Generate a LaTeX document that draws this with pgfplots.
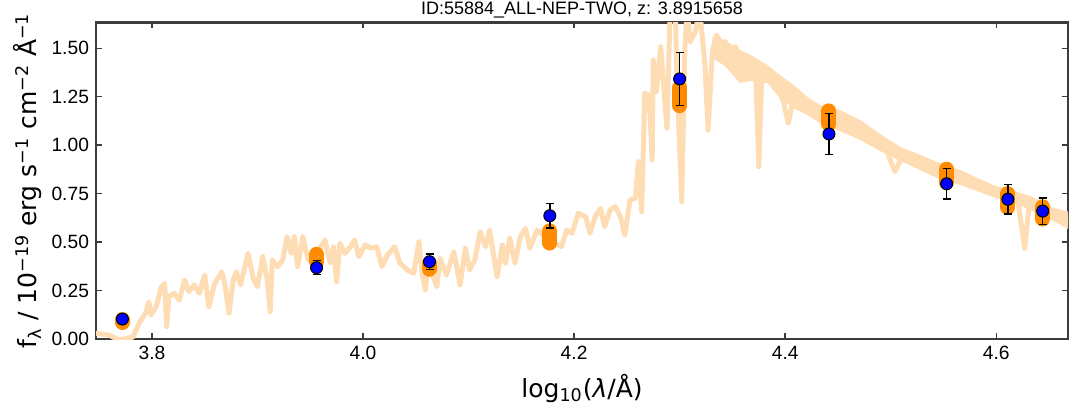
\documentclass[border=0pt]{standalone}
\usepackage{fontspec}
\setmainfont{Liberation Sans}
\newfontfamily\dejavu{DejaVu Sans}
\usepackage{pgfplots}
\pgfplotsset{compat=1.18}
\usepgfplotslibrary{fillbetween}
\definecolor{specc}{RGB}{255,221,180}
\definecolor{barc}{RGB}{255,140,0}
\definecolor{framec}{RGB}{60,60,60}

\begin{document}
\begin{tikzpicture}
\begin{axis}[
  width=486pt, height=158.15pt, scale only axis,
  xmin=3.747, xmax=4.668, ymin=0, ymax=1.632,
  xtick={3.8,4.0,4.2,4.4,4.6},
  ytick={0,0.25,0.5,0.75,1,1.25,1.5},
  minor tick num=0,
  tick align=inside, major tick length=2.8pt,
  axis line style={framec, line width=1.2pt},
  every tick/.style={framec, line width=0.7pt},
  tick label style={font=\fontsize{9.6}{11}\selectfont},
  /pgf/number format/assume math mode=true,
  xticklabel style={/pgf/number format/.cd, fixed, fixed zerofill, precision=1},
  yticklabel style={/pgf/number format/.cd, fixed, fixed zerofill, precision=2},
  every axis title shift=0pt,
  title={ID:55884\_ALL-NEP-TWO, z: 3.8915658},
  title style={font=\fontsize{9}{10}\selectfont, at={(axis description cs:0.5,1)}, anchor=base, yshift=3.9pt},
  xlabel={\dejavu log\textsubscript{10}(\textit{λ}/Å)},
  xlabel style={font=\fontsize{12.5}{14}\selectfont, at={(axis description cs:0.5,0)}, anchor=center, yshift=-24.5pt},
  ylabel={\dejavu f\textsubscript{λ} / 10\textsuperscript{−19} erg s\textsuperscript{−1} cm\textsuperscript{−2} Å\textsuperscript{−1}},
  ylabel style={font=\fontsize{12.5}{14}\selectfont, at={(axis description cs:-0.07,0.5)}, anchor=center},
  clip=true,
]
% model spectrum, noisy trace
\addplot[specc, line width=2.5pt, line join=round, line cap=round] coordinates {
(3.747,0.029) (3.759,0.021) (3.769,-0.005) (3.782,0.010) (3.788,0.083) (3.794,0.134)
(3.797,0.192) (3.799,0.124) (3.804,0.167) (3.809,0.270) (3.812,0.287) (3.814,0.063)
(3.816,0.218) (3.821,0.236) (3.826,0.201) (3.831,0.304) (3.835,0.244) (3.840,0.279)
(3.845,0.236) (3.850,0.330) (3.854,0.167) (3.859,0.279) (3.866,0.347) (3.869,0.287)
(3.873,0.133) (3.877,0.304) (3.880,0.347) (3.884,0.279) (3.891,0.442) (3.896,0.313)
(3.900,0.270) (3.905,0.425) (3.909,0.313) (3.912,0.141) (3.914,0.408) (3.919,0.373)
(3.924,0.408) (3.928,0.528) (3.932,0.442) (3.935,0.528) (3.938,0.373) (3.943,0.528)
(3.948,0.408) (3.955,0.433) (3.964,0.511) (3.969,0.391) (3.972,0.476) (3.975,0.296)
(3.978,0.494) (3.983,0.442) (3.988,0.476) (3.992,0.511) (3.996,0.425) (4.002,0.485)
(4.008,0.468) (4.013,0.476) (4.018,0.373) (4.023,0.433) (4.030,0.476) (4.035,0.391)
(4.042,0.356) (4.048,0.339) (4.053,0.502) (4.056,0.339) (4.059,0.253) (4.062,0.382)
(4.070,0.270) (4.073,0.416) (4.079,0.330) (4.086,0.450) (4.092,0.279) (4.097,0.468)
(4.101,0.356) (4.106,0.408) (4.111,0.554) (4.116,0.476) (4.120,0.562) (4.127,0.321)
(4.132,0.485) (4.135,0.391) (4.139,0.520) (4.144,0.391) (4.149,0.528) (4.154,0.571)
(4.158,0.468) (4.165,0.562) (4.176,0.511) (4.188,0.476) (4.193,0.562) (4.198,0.545)
(4.204,0.649) (4.211,0.631) (4.215,0.545) (4.220,0.631) (4.225,0.674) (4.229,0.579)
(4.234,0.666) (4.239,0.683) (4.244,0.631) (4.248,0.537) (4.253,0.717) (4.258,0.726)
(4.261,0.915) (4.264,0.657) (4.267,1.268) (4.271,1.259) (4.274,0.924) (4.275,1.440)
(4.278,1.276) (4.282,1.508) (4.285,1.294) (4.288,1.087) (4.291,1.700) (4.296,1.700)
(4.297,1.414) (4.302,0.708) (4.305,1.500) (4.307,1.700) (4.310,1.534) (4.315,1.586)
(4.319,1.700) (4.324,1.414) (4.327,1.078) (4.331,1.482) (4.335,1.569) (4.340,1.517)
(4.343,1.534) (4.348,1.482) (4.353,1.508) (4.357,1.448) (4.362,1.465) (4.367,1.431)
(4.372,1.400) (4.375,0.888) (4.378,1.388) (4.386,1.336) (4.392,1.302) (4.398,1.233)
(4.403,1.113) (4.408,1.250) (4.413,1.230) (4.417,1.199) (4.424,1.182) (4.433,1.156)
(4.442,1.140) (4.452,1.120) (4.462,1.095) (4.471,1.075) (4.484,1.027) (4.496,0.975)
(4.504,0.863) (4.512,0.958) (4.522,0.924) (4.528,0.907) (4.534,0.898) (4.544,0.872)
(4.553,0.851) (4.569,0.829) (4.582,0.795) (4.594,0.770) (4.601,0.752) (4.611,0.738)
(4.620,0.728) (4.627,0.468) (4.631,0.683) (4.635,0.700) (4.644,0.666) (4.654,0.640)
(4.667,0.614) (4.670,0.604)
};
% envelope of the dense red part
\addplot[draw=none, name path=up] coordinates {
(4.331,1.560) (4.343,1.543) (4.357,1.492) (4.367,1.466) (4.383,1.414) (4.395,1.362)
(4.408,1.311) (4.421,1.249) (4.433,1.207) (4.452,1.182) (4.471,1.130) (4.490,1.058)
(4.509,0.991) (4.528,0.950) (4.544,0.914) (4.566,0.872) (4.582,0.831) (4.597,0.795)
(4.620,0.759) (4.632,0.738) (4.654,0.676) (4.670,0.655)
};
\addplot[draw=none, name path=lo] coordinates {
(4.331,1.450) (4.343,1.408) (4.357,1.321) (4.367,1.331) (4.383,1.321) (4.395,1.243)
(4.408,1.191) (4.421,1.155) (4.433,1.114) (4.452,1.073) (4.471,1.027) (4.490,0.970)
(4.509,0.918) (4.528,0.872) (4.544,0.830) (4.566,0.794) (4.582,0.763) (4.597,0.732)
(4.620,0.696) (4.632,0.665) (4.654,0.609) (4.670,0.562)
};
\addplot[specc, draw=none] fill between[of=up and lo];
% model photometry
\addplot[barc, line width=7.5pt, line cap=round, unbounded coords=jump] coordinates {
(3.772,0.085) (3.772,0.100) (3.772,nan)
(3.956,0.399) (3.956,0.437) (3.956,nan)
(4.063,0.360) (4.063,0.389) (4.063,nan)
(4.177,0.495) (4.177,0.558) (4.177,nan)
(4.300,1.204) (4.300,1.297) (4.300,nan)
(4.4415,1.109) (4.4415,1.177) (4.4415,nan)
(4.553,0.808) (4.553,0.876) (4.553,nan)
(4.611,0.679) (4.611,0.750) (4.611,nan)
(4.644,0.619) (4.644,0.682)
};
% observed photometry
\addplot[black, only marks, mark=*, mark size=3pt,
  mark options={fill=blue, draw=black, line width=0.5pt},
  error bars/.cd, y dir=both, y explicit,
  error bar style={black, line width=0.7pt},
  error mark options={black, line width=0.7pt, mark size=2pt, rotate=90}]
coordinates {
(3.772,0.103) +- (0,0.015)
(3.956,0.368) +- (0,0.036)
(4.063,0.399) +- (0,0.040)
(4.177,0.636) +- (0,0.064)
(4.300,1.342) +- (0,0.137)
(4.4415,1.058) +- (0,0.105)
(4.553,0.801) +- (0,0.079)
(4.611,0.721) +- (0,0.076)
(4.644,0.660) +- (0,0.068)
};
\end{axis}
\pgfresetboundingbox
\path[use as bounding box] ([shift={(-48pt,-36pt)}]current axis.south west) rectangle ([shift={(1.5pt,11.35pt)}]current axis.north east);
\end{tikzpicture}
\end{document}
